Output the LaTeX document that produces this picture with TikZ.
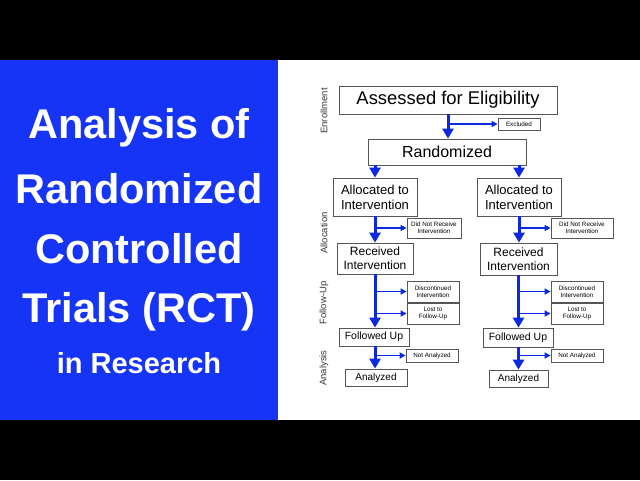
\documentclass[tikz,border=0pt]{standalone}
\usepackage{fontspec}
\setmainfont{Liberation Sans}
\usetikzlibrary{arrows.meta, positioning}
\definecolor{panelblue}{RGB}{22,52,245}
\definecolor{flowblue}{RGB}{12,40,225}
\definecolor{boxgray}{RGB}{85,85,85}
\definecolor{phasegray}{RGB}{55,55,55}

\begin{document}
\begin{tikzpicture}[x=1pt, y=-1pt,
    box/.style={draw=boxgray, line width=0.8pt, fill=white, inner sep=0pt, align=center, text=black},
    note/.style={box, font=\fontsize{6.3}{7.4}\selectfont},
    phase/.style={rotate=90, text=phasegray, font=\fontsize{9.5}{10}\selectfont},
    mainarr/.style={draw=flowblue, line width=3pt, -{Triangle[width=11pt,length=10pt]}},
    sidearr/.style={draw=flowblue, line width=1.5pt, -{Triangle[width=6pt,length=6pt]}},
    title/.style={text=white, anchor=base, font=\bfseries\fontsize{41.5}{41.5}\selectfont}]
    \useasboundingbox (0,0) rectangle (640,480);
    \fill[black] (0,0) rectangle (640,480);
    \fill[white] (0,60) rectangle (640,420);
    \fill[panelblue] (0,60) rectangle (278,420);

    \node[title] (t1) at (139,138) {Analysis of};
    \node[title] (t2) at (139,203) {Randomized};
    \node[title] (t3) at (139,263) {Controlled};
    \node[title] (t4) at (139,322) {Trials (RCT)};
    \node[title, font=\bfseries\fontsize{29}{29}\selectfont] (t5) at (139,373) {in Research};

    \node[phase] (enroll) at (324,111) {Enrollment};
    \node[phase] (allocation) at (324,233) {Allocation};
    \node[phase] (followup) at (324,303) {Follow-Up};
    \node[phase] (analysis) at (324,368) {Analysis};

    \node[box, minimum width=218, minimum height=28, font=\fontsize{18.4}{20}\selectfont] (assess) at (448,100) {Assessed for Eligibility};
    \node[note, minimum width=42, minimum height=12] (excl) at (519,124) {Excluded};
    \node[box, minimum width=158, minimum height=26, font=\fontsize{16}{18}\selectfont] (rand) at (447,152) {Randomized};

    \node[box, minimum width=84, minimum height=38, font=\fontsize{13}{15}\selectfont] (alloc1) at (375,197) {Allocated to\\Intervention};
    \node[box, minimum width=84, minimum height=38, font=\fontsize{13}{15}\selectfont] (alloc2) at (519,197) {Allocated to\\Intervention};
    \node[note, minimum width=54, minimum height=20] (norec1) at (434,228) {Did Not Receive\\Intervention};
    \node[note, minimum width=62, minimum height=20] (norec2) at (582,228) {Did Not Receive\\Intervention};

    \node[box, minimum width=76, minimum height=31, font=\fontsize{12}{14}\selectfont] (recv1) at (375,258.5) {Received\\Intervention};
    \node[box, minimum width=77, minimum height=32, font=\fontsize{12}{14}\selectfont] (recv2) at (518.5,259) {Received\\Intervention};
    \node[note, minimum width=52, minimum height=21] (disc1) at (433,291.5) {Discontinued\\Intervention};
    \node[note, minimum width=52, minimum height=21] (lost1) at (433,313.5) {Lost to\\Follow-Up};
    \node[note, minimum width=52, minimum height=21] (disc2) at (577,291.5) {Discontinued\\Intervention};
    \node[note, minimum width=52, minimum height=21] (lost2) at (577,313.5) {Lost to\\Follow-Up};

    \node[box, minimum width=70, minimum height=18, font=\fontsize{10.5}{12}\selectfont] (follow1) at (374,337) {Followed Up};
    \node[box, minimum width=70, minimum height=19, font=\fontsize{10.5}{12}\selectfont] (follow2) at (518,337.5) {Followed Up};
    \node[note, minimum width=52, minimum height=13] (notan1) at (432,355.5) {Not Analyzed};
    \node[note, minimum width=52, minimum height=13] (notan2) at (577,355.5) {Not Analyzed};
    \node[box, minimum width=62, minimum height=17, font=\fontsize{10}{12}\selectfont] (anal1) at (376,377.5) {Analyzed};
    \node[box, minimum width=59, minimum height=17, font=\fontsize{10}{12}\selectfont] (anal2) at (518.5,378.5) {Analyzed};

    \draw[mainarr] (assess.south) -- (assess.south |- rand.north);
    \draw[sidearr] (excl.west -| assess.south) -- (excl.west);
    \draw[mainarr] (alloc1.north |- rand.south) -- (alloc1.north);
    \draw[mainarr] (alloc2.north |- rand.south) -- (alloc2.north);

    \draw[mainarr] (alloc1.south) -- (alloc1.south |- recv1.north);
    \draw[mainarr] (alloc2.south) -- (alloc2.south |- recv2.north);
    \draw[sidearr] (norec1.west -| alloc1.south) -- (norec1.west);
    \draw[sidearr] (norec2.west -| alloc2.south) -- (norec2.west);

    \draw[mainarr] (recv1.south) -- (recv1.south |- follow1.north);
    \draw[mainarr] (recv2.south) -- (recv2.south |- follow2.north);
    \draw[sidearr] (disc1.west -| recv1.south) -- (disc1.west);
    \draw[sidearr] (lost1.west -| recv1.south) -- (lost1.west);
    \draw[sidearr] (disc2.west -| recv2.south) -- (disc2.west);
    \draw[sidearr] (lost2.west -| recv2.south) -- (lost2.west);

    \draw[mainarr] (recv1.south |- follow1.south) -- (recv1.south |- anal1.north);
    \draw[mainarr] (recv2.south |- follow2.south) -- (recv2.south |- anal2.north);
    \draw[sidearr] (notan1.west -| recv1.south) -- (notan1.west);
    \draw[sidearr] (notan2.west -| recv2.south) -- (notan2.west);
  \end{tikzpicture}
\end{document}
